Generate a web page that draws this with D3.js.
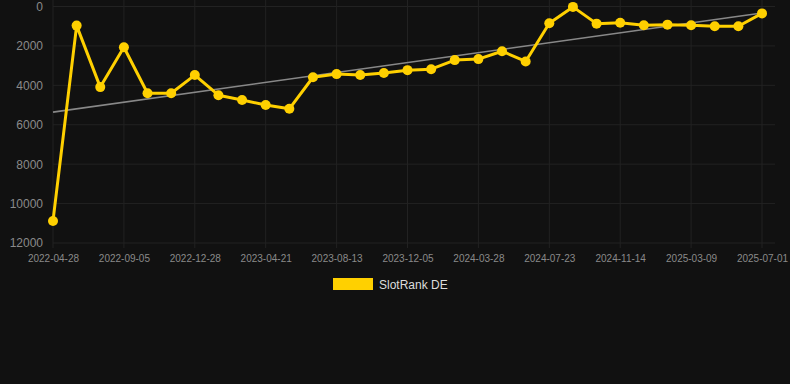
<!DOCTYPE html>
<html><head><meta charset="utf-8">
<script src="https://cdn.jsdelivr.net/npm/d3@7"></script>
<style>
html,body{margin:0;padding:0;background:#111111;}
svg{display:block;font-family:"Liberation Sans",Arial,Helvetica,sans-serif;}
</style></head>
<body>
<svg id="c" width="790" height="384"></svg>
<script>
const dates = ["2022-04-28","2022-06-05","2022-07-14","2022-09-05","2022-10-13","2022-11-20","2022-12-28","2023-02-04","2023-03-14","2023-04-21","2023-05-29","2023-07-06","2023-08-13","2023-09-20","2023-10-28","2023-12-05","2024-01-12","2024-02-19","2024-03-28","2024-05-05","2024-06-14","2024-07-23","2024-08-30","2024-10-07","2024-11-14","2024-12-22","2025-01-30","2025-03-09","2025-04-16","2025-05-24","2025-07-01"];
const ranks = [10880,970,4090,2070,4400,4400,3480,4500,4740,5000,5190,3590,3430,3480,3370,3230,3180,2720,2670,2270,2790,850,20,870,820,950,920,950,1000,1000,350];
const yTicks = [0,2000,4000,6000,8000,10000,12000];
const seriesName = "SlotRank DE";

const svg = d3.select("#c");
const mLeft = 53, mRight = 762, mTop = 6.5, mBottom = 243;

const x = d3.scalePoint().domain(dates).range([mLeft, mRight]);
const y = d3.scaleLinear().domain([0, 12000]).range([mTop, mBottom]);

// grid
const g = svg.append("g");
g.selectAll("line.h").data(yTicks).join("line")
  .attr("x1", mLeft).attr("x2", 775)
  .attr("y1", d => y(d)).attr("y2", d => y(d))
  .attr("stroke", "#222222").attr("stroke-width", 1);
const xTickDates = dates.filter((d, i) => i % 3 === 0);
g.selectAll("line.v").data(xTickDates).join("line")
  .attr("x1", d => x(d)).attr("x2", d => x(d))
  .attr("y1", 0).attr("y2", mBottom + 5)
  .attr("stroke", "#222222").attr("stroke-width", 1);

// y axis labels
const yAxis = d3.axisLeft(y).tickValues(yTicks).tickSize(0).tickPadding(0).tickFormat(d3.format("d"));
const ya = svg.append("g").attr("transform", `translate(${mLeft - 10},0)`).call(yAxis);
ya.select(".domain").remove();
ya.selectAll("text").attr("fill", "#8a8a8a").attr("font-size", 12).attr("font-family", "Liberation Sans, Arial, sans-serif");

// x axis labels
const xAxis = d3.axisBottom(x).tickValues(xTickDates).tickSize(0).tickPadding(0);
const xa = svg.append("g").attr("transform", `translate(0,${mBottom + 11.5})`).call(xAxis);
xa.select(".domain").remove();
xa.selectAll("text").attr("fill", "#8a8a8a").attr("font-size", 10).attr("font-family", "Liberation Sans, Arial, sans-serif");

// trend line (least squares on index)
const n = ranks.length;
const idx = d3.range(n);
const mx = d3.mean(idx), my = d3.mean(ranks);
const slope = d3.sum(idx, i => (i - mx) * (ranks[i] - my)) / d3.sum(idx, i => (i - mx) * (i - mx));
const icpt = my - slope * mx;
svg.append("line")
  .attr("x1", x(dates[0])).attr("y1", y(icpt))
  .attr("x2", x(dates[n - 1])).attr("y2", y(icpt + slope * (n - 1)))
  .attr("stroke", "#888888").attr("stroke-width", 1.6);

// series
const line = d3.line().x((d, i) => x(dates[i])).y(d => y(d));
svg.append("path").datum(ranks).attr("d", line)
  .attr("fill", "none").attr("stroke", "#FFD000").attr("stroke-width", 3).attr("stroke-linejoin", "round");
svg.selectAll("circle.p").data(ranks).join("circle")
  .attr("cx", (d, i) => x(dates[i])).attr("cy", d => y(d)).attr("r", 5)
  .attr("fill", "#FFD000");

// legend
svg.append("rect").attr("x", 333).attr("y", 278).attr("width", 40).attr("height", 12).attr("fill", "#FFD000");
svg.append("text").attr("x", 379).attr("y", 289).text(seriesName)
  .attr("fill", "#dddddd").attr("font-size", 12);
</script>
</body></html>
